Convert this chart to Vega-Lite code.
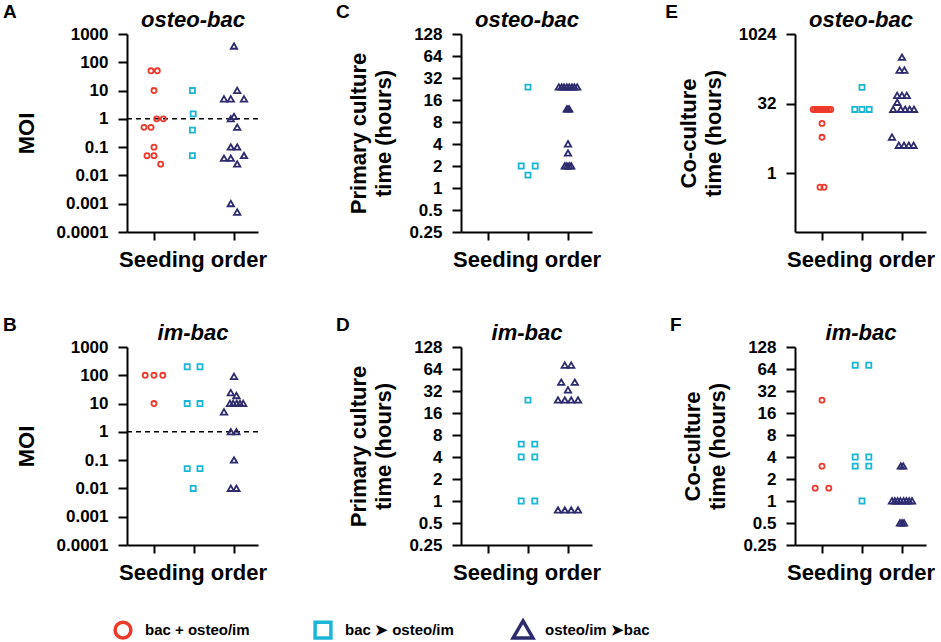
{
"$schema":"https://vega.github.io/schema/vega-lite/v6.json",
"background":"white",
"padding":{"left":3,"top":3,"right":0,"bottom":0},
"bounds":"flush",
"datasets":{"pts":[
{"panel":"A","group":"bac + osteo/im","pos":0.925,"value":50},
{"panel":"A","group":"bac + osteo/im","pos":1.083,"value":50},
{"panel":"A","group":"bac + osteo/im","pos":1.0,"value":10},
{"panel":"A","group":"bac + osteo/im","pos":1.067,"value":1},
{"panel":"A","group":"bac + osteo/im","pos":1.233,"value":1},
{"panel":"A","group":"bac + osteo/im","pos":0.75,"value":0.5},
{"panel":"A","group":"bac + osteo/im","pos":0.925,"value":0.5},
{"panel":"A","group":"bac + osteo/im","pos":1.0,"value":0.1},
{"panel":"A","group":"bac + osteo/im","pos":0.825,"value":0.05},
{"panel":"A","group":"bac + osteo/im","pos":1.0,"value":0.05},
{"panel":"A","group":"bac + osteo/im","pos":1.167,"value":0.025},
{"panel":"A","group":"bac ➤ osteo/im","pos":1.96,"value":10},
{"panel":"A","group":"bac ➤ osteo/im","pos":1.98,"value":1.5},
{"panel":"A","group":"bac ➤ osteo/im","pos":1.96,"value":0.4},
{"panel":"A","group":"bac ➤ osteo/im","pos":1.96,"value":0.05},
{"panel":"A","group":"osteo/im ➤bac","pos":3.0,"value":370},
{"panel":"A","group":"osteo/im ➤bac","pos":3.08,"value":10},
{"panel":"A","group":"osteo/im ➤bac","pos":2.75,"value":5},
{"panel":"A","group":"osteo/im ➤bac","pos":2.92,"value":5},
{"panel":"A","group":"osteo/im ➤bac","pos":3.25,"value":5},
{"panel":"A","group":"osteo/im ➤bac","pos":2.92,"value":1},
{"panel":"A","group":"osteo/im ➤bac","pos":3.0,"value":1.2},
{"panel":"A","group":"osteo/im ➤bac","pos":3.08,"value":0.5},
{"panel":"A","group":"osteo/im ➤bac","pos":2.92,"value":0.1},
{"panel":"A","group":"osteo/im ➤bac","pos":3.08,"value":0.1},
{"panel":"A","group":"osteo/im ➤bac","pos":2.75,"value":0.04},
{"panel":"A","group":"osteo/im ➤bac","pos":2.92,"value":0.04},
{"panel":"A","group":"osteo/im ➤bac","pos":3.25,"value":0.05},
{"panel":"A","group":"osteo/im ➤bac","pos":3.08,"value":0.025},
{"panel":"A","group":"osteo/im ➤bac","pos":2.92,"value":0.001},
{"panel":"A","group":"osteo/im ➤bac","pos":3.08,"value":0.0005},
{"panel":"B","group":"bac + osteo/im","pos":0.78,"value":100},
{"panel":"B","group":"bac + osteo/im","pos":1.0,"value":100},
{"panel":"B","group":"bac + osteo/im","pos":1.22,"value":100},
{"panel":"B","group":"bac + osteo/im","pos":1.0,"value":10},
{"panel":"B","group":"bac ➤ osteo/im","pos":1.83,"value":200},
{"panel":"B","group":"bac ➤ osteo/im","pos":2.15,"value":200},
{"panel":"B","group":"bac ➤ osteo/im","pos":1.83,"value":10},
{"panel":"B","group":"bac ➤ osteo/im","pos":2.15,"value":10},
{"panel":"B","group":"bac ➤ osteo/im","pos":1.83,"value":0.05},
{"panel":"B","group":"bac ➤ osteo/im","pos":2.15,"value":0.05},
{"panel":"B","group":"bac ➤ osteo/im","pos":1.98,"value":0.01},
{"panel":"B","group":"osteo/im ➤bac","pos":3.0,"value":90},
{"panel":"B","group":"osteo/im ➤bac","pos":2.92,"value":24},
{"panel":"B","group":"osteo/im ➤bac","pos":3.06,"value":19},
{"panel":"B","group":"osteo/im ➤bac","pos":2.9,"value":10},
{"panel":"B","group":"osteo/im ➤bac","pos":2.98,"value":10},
{"panel":"B","group":"osteo/im ➤bac","pos":3.07,"value":10},
{"panel":"B","group":"osteo/im ➤bac","pos":3.15,"value":10},
{"panel":"B","group":"osteo/im ➤bac","pos":3.23,"value":10},
{"panel":"B","group":"osteo/im ➤bac","pos":2.75,"value":5},
{"panel":"B","group":"osteo/im ➤bac","pos":2.92,"value":1},
{"panel":"B","group":"osteo/im ➤bac","pos":3.06,"value":1},
{"panel":"B","group":"osteo/im ➤bac","pos":3.0,"value":0.1},
{"panel":"B","group":"osteo/im ➤bac","pos":2.92,"value":0.01},
{"panel":"B","group":"osteo/im ➤bac","pos":3.06,"value":0.01},
{"panel":"C","group":"bac ➤ osteo/im","pos":2.0,"value":24},
{"panel":"C","group":"bac ➤ osteo/im","pos":1.83,"value":2},
{"panel":"C","group":"bac ➤ osteo/im","pos":2.18,"value":2},
{"panel":"C","group":"bac ➤ osteo/im","pos":2.0,"value":1.5},
{"panel":"C","group":"osteo/im ➤bac","pos":2.77,"value":24},
{"panel":"C","group":"osteo/im ➤bac","pos":2.84,"value":24},
{"panel":"C","group":"osteo/im ➤bac","pos":2.9,"value":24},
{"panel":"C","group":"osteo/im ➤bac","pos":2.97,"value":24},
{"panel":"C","group":"osteo/im ➤bac","pos":3.03,"value":24},
{"panel":"C","group":"osteo/im ➤bac","pos":3.1,"value":24},
{"panel":"C","group":"osteo/im ➤bac","pos":3.16,"value":24},
{"panel":"C","group":"osteo/im ➤bac","pos":3.23,"value":24},
{"panel":"C","group":"osteo/im ➤bac","pos":2.97,"value":12},
{"panel":"C","group":"osteo/im ➤bac","pos":3.0,"value":12},
{"panel":"C","group":"osteo/im ➤bac","pos":3.03,"value":12},
{"panel":"C","group":"osteo/im ➤bac","pos":3.0,"value":4},
{"panel":"C","group":"osteo/im ➤bac","pos":3.0,"value":3},
{"panel":"C","group":"osteo/im ➤bac","pos":2.92,"value":2},
{"panel":"C","group":"osteo/im ➤bac","pos":2.97,"value":2},
{"panel":"C","group":"osteo/im ➤bac","pos":3.03,"value":2},
{"panel":"C","group":"osteo/im ➤bac","pos":3.08,"value":2},
{"panel":"D","group":"bac ➤ osteo/im","pos":2.0,"value":24},
{"panel":"D","group":"bac ➤ osteo/im","pos":1.83,"value":6},
{"panel":"D","group":"bac ➤ osteo/im","pos":2.17,"value":6},
{"panel":"D","group":"bac ➤ osteo/im","pos":1.83,"value":4},
{"panel":"D","group":"bac ➤ osteo/im","pos":2.17,"value":4},
{"panel":"D","group":"bac ➤ osteo/im","pos":1.83,"value":1},
{"panel":"D","group":"bac ➤ osteo/im","pos":2.17,"value":1},
{"panel":"D","group":"osteo/im ➤bac","pos":2.92,"value":72},
{"panel":"D","group":"osteo/im ➤bac","pos":3.08,"value":72},
{"panel":"D","group":"osteo/im ➤bac","pos":2.83,"value":42},
{"panel":"D","group":"osteo/im ➤bac","pos":3.17,"value":42},
{"panel":"D","group":"osteo/im ➤bac","pos":3.0,"value":33},
{"panel":"D","group":"osteo/im ➤bac","pos":2.75,"value":24},
{"panel":"D","group":"osteo/im ➤bac","pos":2.92,"value":24},
{"panel":"D","group":"osteo/im ➤bac","pos":3.08,"value":24},
{"panel":"D","group":"osteo/im ➤bac","pos":3.25,"value":24},
{"panel":"D","group":"osteo/im ➤bac","pos":2.75,"value":0.75},
{"panel":"D","group":"osteo/im ➤bac","pos":2.92,"value":0.75},
{"panel":"D","group":"osteo/im ➤bac","pos":3.08,"value":0.75},
{"panel":"D","group":"osteo/im ➤bac","pos":3.25,"value":0.75},
{"panel":"E","group":"bac + osteo/im","pos":0.78,"value":24},
{"panel":"E","group":"bac + osteo/im","pos":0.83,"value":24},
{"panel":"E","group":"bac + osteo/im","pos":0.88,"value":24},
{"panel":"E","group":"bac + osteo/im","pos":0.93,"value":24},
{"panel":"E","group":"bac + osteo/im","pos":0.98,"value":24},
{"panel":"E","group":"bac + osteo/im","pos":1.02,"value":24},
{"panel":"E","group":"bac + osteo/im","pos":1.07,"value":24},
{"panel":"E","group":"bac + osteo/im","pos":1.12,"value":24},
{"panel":"E","group":"bac + osteo/im","pos":1.17,"value":24},
{"panel":"E","group":"bac + osteo/im","pos":1.22,"value":24},
{"panel":"E","group":"bac + osteo/im","pos":1.0,"value":12},
{"panel":"E","group":"bac + osteo/im","pos":1.0,"value":6},
{"panel":"E","group":"bac + osteo/im","pos":0.95,"value":0.5},
{"panel":"E","group":"bac + osteo/im","pos":1.05,"value":0.5},
{"panel":"E","group":"bac ➤ osteo/im","pos":2.0,"value":72},
{"panel":"E","group":"bac ➤ osteo/im","pos":1.82,"value":24},
{"panel":"E","group":"bac ➤ osteo/im","pos":2.0,"value":24},
{"panel":"E","group":"bac ➤ osteo/im","pos":2.18,"value":24},
{"panel":"E","group":"osteo/im ➤bac","pos":3.0,"value":320},
{"panel":"E","group":"osteo/im ➤bac","pos":2.94,"value":168},
{"panel":"E","group":"osteo/im ➤bac","pos":3.06,"value":168},
{"panel":"E","group":"osteo/im ➤bac","pos":2.88,"value":48},
{"panel":"E","group":"osteo/im ➤bac","pos":3.0,"value":48},
{"panel":"E","group":"osteo/im ➤bac","pos":3.12,"value":48},
{"panel":"E","group":"osteo/im ➤bac","pos":2.88,"value":34},
{"panel":"E","group":"osteo/im ➤bac","pos":2.78,"value":24},
{"panel":"E","group":"osteo/im ➤bac","pos":2.97,"value":24},
{"panel":"E","group":"osteo/im ➤bac","pos":3.08,"value":24},
{"panel":"E","group":"osteo/im ➤bac","pos":3.19,"value":24},
{"panel":"E","group":"osteo/im ➤bac","pos":3.3,"value":24},
{"panel":"E","group":"osteo/im ➤bac","pos":2.75,"value":6},
{"panel":"E","group":"osteo/im ➤bac","pos":2.92,"value":4},
{"panel":"E","group":"osteo/im ➤bac","pos":3.05,"value":4},
{"panel":"E","group":"osteo/im ➤bac","pos":3.17,"value":4},
{"panel":"E","group":"osteo/im ➤bac","pos":3.29,"value":4},
{"panel":"F","group":"bac + osteo/im","pos":1.0,"value":24},
{"panel":"F","group":"bac + osteo/im","pos":1.0,"value":3},
{"panel":"F","group":"bac + osteo/im","pos":0.83,"value":1.5},
{"panel":"F","group":"bac + osteo/im","pos":1.17,"value":1.5},
{"panel":"F","group":"bac ➤ osteo/im","pos":1.83,"value":72},
{"panel":"F","group":"bac ➤ osteo/im","pos":2.17,"value":72},
{"panel":"F","group":"bac ➤ osteo/im","pos":1.83,"value":4},
{"panel":"F","group":"bac ➤ osteo/im","pos":2.17,"value":4},
{"panel":"F","group":"bac ➤ osteo/im","pos":1.83,"value":3},
{"panel":"F","group":"bac ➤ osteo/im","pos":2.17,"value":3},
{"panel":"F","group":"bac ➤ osteo/im","pos":2.0,"value":1},
{"panel":"F","group":"osteo/im ➤bac","pos":2.97,"value":3},
{"panel":"F","group":"osteo/im ➤bac","pos":3.03,"value":3},
{"panel":"F","group":"osteo/im ➤bac","pos":2.75,"value":1},
{"panel":"F","group":"osteo/im ➤bac","pos":2.82,"value":1},
{"panel":"F","group":"osteo/im ➤bac","pos":2.89,"value":1},
{"panel":"F","group":"osteo/im ➤bac","pos":2.96,"value":1},
{"panel":"F","group":"osteo/im ➤bac","pos":3.04,"value":1},
{"panel":"F","group":"osteo/im ➤bac","pos":3.11,"value":1},
{"panel":"F","group":"osteo/im ➤bac","pos":3.18,"value":1},
{"panel":"F","group":"osteo/im ➤bac","pos":3.25,"value":1},
{"panel":"F","group":"osteo/im ➤bac","pos":2.95,"value":0.5},
{"panel":"F","group":"osteo/im ➤bac","pos":3.0,"value":0.5},
{"panel":"F","group":"osteo/im ➤bac","pos":3.05,"value":0.5}
]},
"columns":3,
"spacing":{"row":115,"column":203},
"concat":[
{"width":131,"height":198,"title":{"text":"A"},"resolve":{"axis":{"x":"independent"}},
 "layer":[
  {"data":{"values":[{}]},"mark":{"type":"rule","opacity":0},"encoding":{"x":{"datum":2,"type":"quantitative","scale":{"domain":[0.325,3.6],"nice":false,"zero":false},"axis":{"orient":"top","title":"osteo-bac","domain":false,"ticks":false,"labels":false,"titleFontStyle":"italic","titlePadding":3}}}},
  {"data":{"values":[{}]},"mark":{"type":"rule","strokeDash":[5,4],"strokeWidth":1.5,"color":"black"},"encoding":{"y":{"datum":1,"type":"quantitative"}}},
  {"data":{"name":"pts"},"transform":[{"filter":"datum.panel == 'A'"}],"mark":{"type":"point","filled":false,"strokeWidth":1.8,"opacity":1,"size":26},
   "encoding":{
    "x":{"field":"pos","type":"quantitative","scale":{"domain":[0.325,3.6],"nice":false,"zero":false},"axis":{"values":[1,2,3],"labels":false,"title":"Seeding order"}},
    "y":{"field":"value","type":"quantitative","scale":{"type":"log","domain":[0.0001,1000],"nice":false},"axis":{"values":[0.0001,0.001,0.01,0.1,1,10,100,1000],"format":"~g","title":"MOI","titlePadding":18}},
    "color":{"field":"group","type":"nominal","scale":{"domain":["bac + osteo/im","bac ➤ osteo/im","osteo/im ➤bac"],"range":["#ee3a2c","#1bb6d6","#2d2b6d"]},"legend":{"title":null,"legendX":-14,"legendY":586}},
    "shape":{"field":"group","type":"nominal","scale":{"domain":["bac + osteo/im","bac ➤ osteo/im","osteo/im ➤bac"],"range":["circle","square","M0,-1.15L1.25,1L-1.25,1Z"]},"legend":{"title":null,"legendX":-14,"legendY":586}}
   }}
 ]},
{"width":131,"height":198,"title":{"text":"C"},"resolve":{"axis":{"x":"independent"}},
 "layer":[
  {"data":{"values":[{}]},"mark":{"type":"rule","opacity":0},"encoding":{"x":{"datum":2,"type":"quantitative","scale":{"domain":[0.325,3.6],"nice":false,"zero":false},"axis":{"orient":"top","title":"osteo-bac","domain":false,"ticks":false,"labels":false,"titleFontStyle":"italic","titlePadding":3}}}},
  {"data":{"name":"pts"},"transform":[{"filter":"datum.panel == 'C'"}],"mark":{"type":"point","filled":false,"strokeWidth":1.8,"opacity":1,"size":26},
   "encoding":{
    "x":{"field":"pos","type":"quantitative","scale":{"domain":[0.325,3.6],"nice":false,"zero":false},"axis":{"values":[1,2,3],"labels":false,"title":"Seeding order"}},
    "y":{"field":"value","type":"quantitative","scale":{"type":"log","base":2,"domain":[0.25,128],"nice":false},"axis":{"values":[0.25,0.5,1,2,4,8,16,32,64,128],"format":"~g","title":["Primary culture","time (hours)"]}},
    "color":{"field":"group","type":"nominal","scale":{"domain":["bac + osteo/im","bac ➤ osteo/im","osteo/im ➤bac"],"range":["#ee3a2c","#1bb6d6","#2d2b6d"]},"legend":{"title":null,"legendX":-14,"legendY":586}},
    "shape":{"field":"group","type":"nominal","scale":{"domain":["bac + osteo/im","bac ➤ osteo/im","osteo/im ➤bac"],"range":["circle","square","M0,-1.15L1.25,1L-1.25,1Z"]},"legend":{"title":null,"legendX":-14,"legendY":586}}
   }}
 ]},
{"width":131,"height":198,"title":{"text":"E"},"resolve":{"axis":{"x":"independent"}},
 "layer":[
  {"data":{"values":[{}]},"mark":{"type":"rule","opacity":0},"encoding":{"x":{"datum":2,"type":"quantitative","scale":{"domain":[0.325,3.6],"nice":false,"zero":false},"axis":{"orient":"top","title":"osteo-bac","domain":false,"ticks":false,"labels":false,"titleFontStyle":"italic","titlePadding":3}}}},
  {"data":{"name":"pts"},"transform":[{"filter":"datum.panel == 'E'"}],"mark":{"type":"point","filled":false,"strokeWidth":1.8,"opacity":1,"size":26},
   "encoding":{
    "x":{"field":"pos","type":"quantitative","scale":{"domain":[0.325,3.6],"nice":false,"zero":false},"axis":{"values":[1,2,3],"labels":false,"title":"Seeding order"}},
    "y":{"field":"value","type":"quantitative","scale":{"type":"log","base":2,"domain":[0.054,1024],"nice":false},"axis":{"values":[1,32,1024],"format":"~g","title":["Co-culture","time (hours)"]}},
    "color":{"field":"group","type":"nominal","scale":{"domain":["bac + osteo/im","bac ➤ osteo/im","osteo/im ➤bac"],"range":["#ee3a2c","#1bb6d6","#2d2b6d"]},"legend":{"title":null,"legendX":-14,"legendY":586}},
    "shape":{"field":"group","type":"nominal","scale":{"domain":["bac + osteo/im","bac ➤ osteo/im","osteo/im ➤bac"],"range":["circle","square","M0,-1.15L1.25,1L-1.25,1Z"]},"legend":{"title":null,"legendX":-14,"legendY":586}}
   }}
 ]},
{"width":131,"height":198,"title":{"text":"B"},"resolve":{"axis":{"x":"independent"}},
 "layer":[
  {"data":{"values":[{}]},"mark":{"type":"rule","opacity":0},"encoding":{"x":{"datum":2,"type":"quantitative","scale":{"domain":[0.325,3.6],"nice":false,"zero":false},"axis":{"orient":"top","title":"im-bac","domain":false,"ticks":false,"labels":false,"titleFontStyle":"italic","titlePadding":3}}}},
  {"data":{"values":[{}]},"mark":{"type":"rule","strokeDash":[5,4],"strokeWidth":1.5,"color":"black"},"encoding":{"y":{"datum":1,"type":"quantitative"}}},
  {"data":{"name":"pts"},"transform":[{"filter":"datum.panel == 'B'"}],"mark":{"type":"point","filled":false,"strokeWidth":1.8,"opacity":1,"size":26},
   "encoding":{
    "x":{"field":"pos","type":"quantitative","scale":{"domain":[0.325,3.6],"nice":false,"zero":false},"axis":{"values":[1,2,3],"labels":false,"title":"Seeding order"}},
    "y":{"field":"value","type":"quantitative","scale":{"type":"log","domain":[0.0001,1000],"nice":false},"axis":{"values":[0.0001,0.001,0.01,0.1,1,10,100,1000],"format":"~g","title":"MOI","titlePadding":18}},
    "color":{"field":"group","type":"nominal","scale":{"domain":["bac + osteo/im","bac ➤ osteo/im","osteo/im ➤bac"],"range":["#ee3a2c","#1bb6d6","#2d2b6d"]},"legend":{"title":null,"legendX":-14,"legendY":586}},
    "shape":{"field":"group","type":"nominal","scale":{"domain":["bac + osteo/im","bac ➤ osteo/im","osteo/im ➤bac"],"range":["circle","square","M0,-1.15L1.25,1L-1.25,1Z"]},"legend":{"title":null,"legendX":-14,"legendY":586}}
   }}
 ]},
{"width":131,"height":198,"title":{"text":"D"},"resolve":{"axis":{"x":"independent"}},
 "layer":[
  {"data":{"values":[{}]},"mark":{"type":"rule","opacity":0},"encoding":{"x":{"datum":2,"type":"quantitative","scale":{"domain":[0.325,3.6],"nice":false,"zero":false},"axis":{"orient":"top","title":"im-bac","domain":false,"ticks":false,"labels":false,"titleFontStyle":"italic","titlePadding":3}}}},
  {"data":{"name":"pts"},"transform":[{"filter":"datum.panel == 'D'"}],"mark":{"type":"point","filled":false,"strokeWidth":1.8,"opacity":1,"size":26},
   "encoding":{
    "x":{"field":"pos","type":"quantitative","scale":{"domain":[0.325,3.6],"nice":false,"zero":false},"axis":{"values":[1,2,3],"labels":false,"title":"Seeding order"}},
    "y":{"field":"value","type":"quantitative","scale":{"type":"log","base":2,"domain":[0.25,128],"nice":false},"axis":{"values":[0.25,0.5,1,2,4,8,16,32,64,128],"format":"~g","title":["Primary culture","time (hours)"]}},
    "color":{"field":"group","type":"nominal","scale":{"domain":["bac + osteo/im","bac ➤ osteo/im","osteo/im ➤bac"],"range":["#ee3a2c","#1bb6d6","#2d2b6d"]},"legend":{"title":null,"legendX":-14,"legendY":586}},
    "shape":{"field":"group","type":"nominal","scale":{"domain":["bac + osteo/im","bac ➤ osteo/im","osteo/im ➤bac"],"range":["circle","square","M0,-1.15L1.25,1L-1.25,1Z"]},"legend":{"title":null,"legendX":-14,"legendY":586}}
   }}
 ]},
{"width":131,"height":198,"title":{"text":"F"},"resolve":{"axis":{"x":"independent"}},
 "layer":[
  {"data":{"values":[{}]},"mark":{"type":"rule","opacity":0},"encoding":{"x":{"datum":2,"type":"quantitative","scale":{"domain":[0.325,3.6],"nice":false,"zero":false},"axis":{"orient":"top","title":"im-bac","domain":false,"ticks":false,"labels":false,"titleFontStyle":"italic","titlePadding":3}}}},
  {"data":{"name":"pts"},"transform":[{"filter":"datum.panel == 'F'"}],"mark":{"type":"point","filled":false,"strokeWidth":1.8,"opacity":1,"size":26},
   "encoding":{
    "x":{"field":"pos","type":"quantitative","scale":{"domain":[0.325,3.6],"nice":false,"zero":false},"axis":{"values":[1,2,3],"labels":false,"title":"Seeding order"}},
    "y":{"field":"value","type":"quantitative","scale":{"type":"log","base":2,"domain":[0.25,128],"nice":false},"axis":{"values":[0.25,0.5,1,2,4,8,16,32,64,128],"format":"~g","title":["Co-culture","time (hours)"]}},
    "color":{"field":"group","type":"nominal","scale":{"domain":["bac + osteo/im","bac ➤ osteo/im","osteo/im ➤bac"],"range":["#ee3a2c","#1bb6d6","#2d2b6d"]},"legend":{"title":null,"legendX":-14,"legendY":586}},
    "shape":{"field":"group","type":"nominal","scale":{"domain":["bac + osteo/im","bac ➤ osteo/im","osteo/im ➤bac"],"range":["circle","square","M0,-1.15L1.25,1L-1.25,1Z"]},"legend":{"title":null,"legendX":-14,"legendY":586}}
   }}
 ]}
],
"config":{
 "font":"Liberation Sans",
 "view":{"stroke":null},
 "axis":{"domainColor":"black","domainWidth":2,"tickColor":"black","tickWidth":2,"tickSize":9,"labelFont":"Liberation Sans","labelFontSize":17,"labelFontWeight":"bold","labelColor":"black","labelPadding":10,"titleFont":"Liberation Sans","titleFontSize":22,"titleFontWeight":"bold","titleColor":"black","titlePadding":13,"titleLineHeight":25,"grid":false},
 "axisX":{"titlePadding":8,"tickSize":8},
 "title":{"anchor":"start","frame":"bounds","font":"Liberation Sans","fontSize":19,"fontWeight":"bold","color":"black","offset":-14,"dx":-12},
 "legend":{"orient":"none","direction":"horizontal","columns":3,"gridAlign":"all","columnPadding":52,"labelFont":"Liberation Sans","labelFontSize":15,"labelFontWeight":"bold","labelColor":"black","symbolSize":250,"symbolStrokeWidth":3.5,"labelOffset":12}
}
}
